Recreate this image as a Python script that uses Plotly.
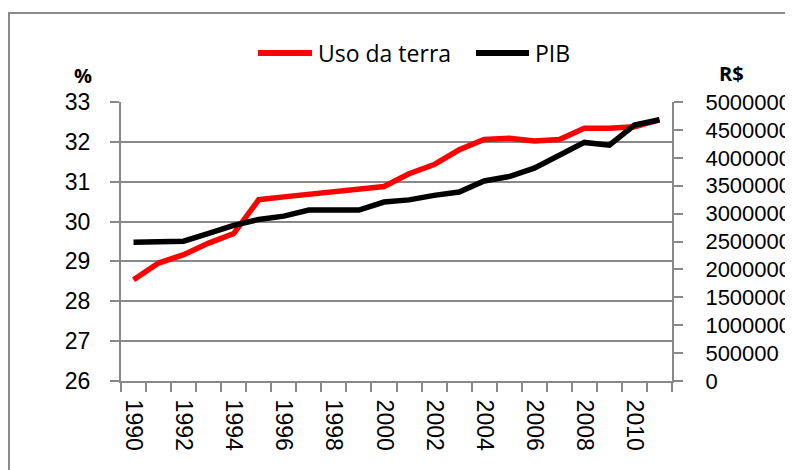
import plotly.graph_objects as go

years = list(range(1990, 2012))
uso_da_terra = [28.54, 28.96, 29.17, 29.46, 29.70, 30.55, 30.62, 30.69, 30.75, 30.82,
                30.88, 31.20, 31.43, 31.80, 32.06, 32.09, 32.02, 32.06, 32.34, 32.34,
                32.38, 32.55]
pib = [2487000, 2505000, 2505000, 2644000, 2788000, 2896000, 2955000, 3063000, 3063000, 3063000,
       3207000, 3246000, 3327000, 3387000, 3585000, 3664000, 3813000, 4053000, 4276000, 4227000,
       4587000, 4683000]
year_ticks = list(range(1990, 2012, 2))

FONT = "Liberation Sans"
LFONT = "Open Sans"
GRID = "#898989"
OFF = 8  # page body margin
W, H = 793 - OFF, 470 - OFF
# plot area in page pixels
L, R, T, B = 121, 672, 102, 381


def px(x):
    return (x - L) / (R - L)


def py(y):
    return (B - y) / (B - T)


fig = go.Figure()
fig.add_trace(go.Scatter(x=years, y=uso_da_terra, name="Uso da terra", mode="lines",
                         line=dict(color="#FF0000", width=5.5), yaxis="y", showlegend=False))
fig.add_trace(go.Scatter(x=years, y=pib, name="PIB", mode="lines",
                         line=dict(color="#000000", width=5.5), yaxis="y2", showlegend=False))

# outer border
fig.add_shape(type="rect", xref="paper", yref="paper",
              x0=px(9), x1=px(820), y0=py(500), y1=py(13),
              line=dict(color="#8a8a8a", width=2), layer="below")

# legend (drawn)
fig.add_shape(type="line", xref="paper", yref="paper", x0=px(258), x1=px(312), y0=py(53), y1=py(53),
              line=dict(color="#FF0000", width=6))
fig.add_shape(type="line", xref="paper", yref="paper", x0=px(476), x1=px(529), y0=py(53), y1=py(53),
              line=dict(color="#000000", width=6))
fig.add_annotation(text="Uso da terra", xref="paper", yref="paper", x=px(316), y=py(53),
                   xanchor="left", yanchor="middle", showarrow=False,
                   font=dict(family=LFONT, size=23, color="#000"))
fig.add_annotation(text="PIB", xref="paper", yref="paper", x=px(533), y=py(53),
                   xanchor="left", yanchor="middle", showarrow=False,
                   font=dict(family=LFONT, size=23, color="#000"))
# axis unit labels
fig.add_annotation(text="<b>%</b>", xref="paper", yref="paper", x=px(83), y=py(75),
                   xanchor="center", yanchor="middle", showarrow=False,
                   font=dict(family=LFONT, size=20, color="#000"))
fig.add_annotation(text="<b>R$</b>", xref="paper", yref="paper", x=px(731), y=py(74),
                   xanchor="center", yanchor="middle", showarrow=False,
                   font=dict(family=LFONT, size=20, color="#000"))

fig.update_layout(
    width=W, height=H,
    margin=dict(l=L - OFF, r=W - (R - OFF), t=T - OFF, b=H - (B - OFF), pad=0, autoexpand=False),
    paper_bgcolor="white", plot_bgcolor="white",
    font=dict(family=FONT, size=23, color="#000"),
    xaxis=dict(range=[1989.5, 2011.5], tickmode="array", tickvals=year_ticks,
               ticktext=[str(y) for y in year_ticks], tickangle=90, automargin=False,
               ticks="", showgrid=False, zeroline=False,
               showline=True, linecolor=GRID, linewidth=2,
               ticklabelstandoff=12,
               minor=dict(ticks="outside", tick0=1989.5, dtick=1, ticklen=9,
                          tickcolor=GRID, tickwidth=2, showgrid=False),
               tickfont=dict(family=FONT, size=23)),
    yaxis=dict(range=[26, 33], dtick=1, tick0=26, showgrid=True, gridcolor=GRID, gridwidth=2,
               zeroline=False, showline=True, linecolor=GRID, linewidth=2, automargin=False,
               ticks="outside", ticklen=9, tickcolor=GRID, tickwidth=2,
               ticklabelstandoff=15, tickfont=dict(family=FONT, size=23)),
    yaxis2=dict(range=[0, 5000000], dtick=500000, tick0=0, overlaying="y", side="right",
                showgrid=False, zeroline=False, showline=True, linecolor=GRID, linewidth=2,
                automargin=False,
                ticks="outside", ticklen=9, tickcolor=GRID, tickwidth=2, tickformat="d",
                ticklabelstandoff=18, tickfont=dict(family=FONT, size=22)),
)

fig.write_html("out.html")
